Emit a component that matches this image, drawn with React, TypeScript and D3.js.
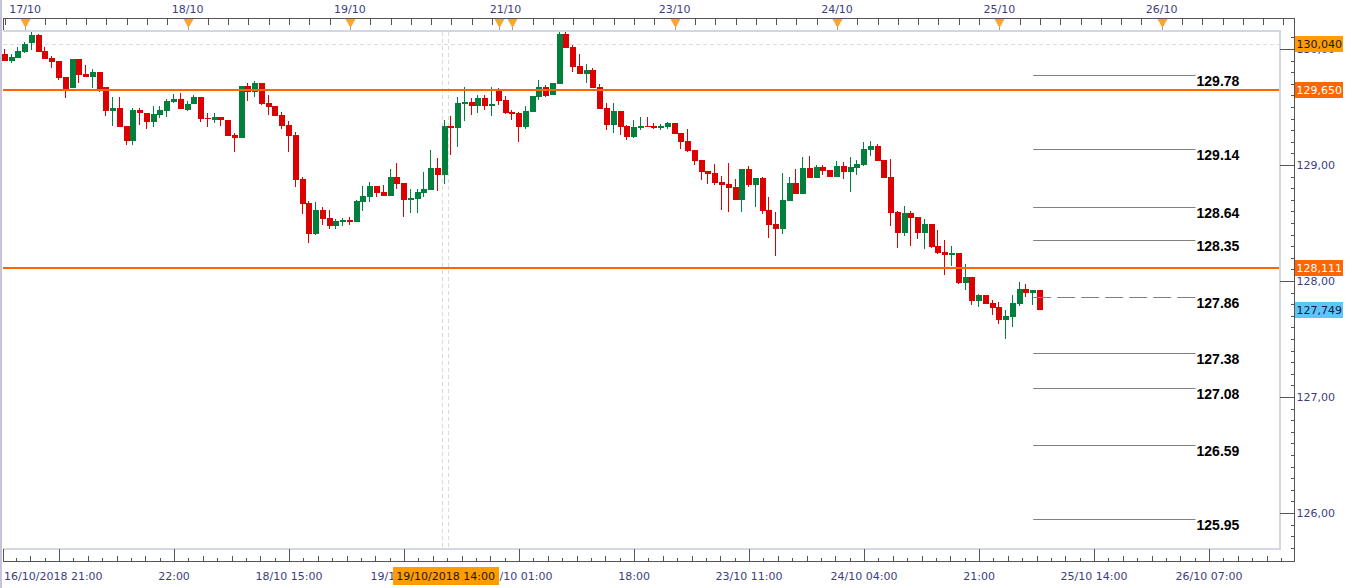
import React from "react";
import * as d3 from "d3";

// ---------- data ----------
const OPEN = [129.957,129.899,129.925,129.977,130.049,130.121,129.983,129.920,129.897,129.759,
129.661,129.914,129.784,129.761,129.802,129.670,129.468,129.491,129.336,129.209,
129.474,129.446,129.373,129.431,129.468,129.546,129.569,129.474,129.523,129.589,
129.408,129.388,129.414,129.388,129.261,129.235,129.681,129.632,129.709,129.534,
129.509,129.431,129.345,129.259,128.879,128.675,128.405,128.612,128.543,128.474,
128.511,128.528,128.509,128.681,128.724,128.819,128.767,128.733,128.897,128.845,
128.701,128.710,128.761,128.787,128.974,128.916,129.339,129.322,129.526,129.543,
129.509,129.578,129.509,129.655,129.560,129.457,129.448,129.328,129.457,129.586,
129.670,129.603,129.698,130.129,130.017,129.853,129.787,129.819,129.675,129.491,
129.345,129.466,129.336,129.241,129.319,129.336,129.336,129.319,129.328,129.362,
129.276,129.207,129.129,129.043,128.948,128.931,128.853,128.836,128.810,128.698,
128.966,128.828,128.888,128.612,128.491,128.448,128.690,128.845,128.750,128.974,
128.888,128.983,128.957,128.897,128.991,128.940,128.974,129.000,129.129,129.164,
129.043,128.897,128.595,128.414,128.586,128.552,128.414,128.491,128.302,128.250,
128.224,128.241,127.983,128.034,127.828,127.879,127.810,127.776,127.664,127.690,
127.802,127.931,127.897,127.922];

const HIGH = [129.997,129.954,130.015,130.063,130.144,130.132,130.020,129.942,129.897,129.759,
129.914,129.914,129.860,129.825,129.802,129.670,129.589,129.584,129.336,129.494,
129.489,129.446,129.509,129.509,129.571,129.612,129.618,129.549,129.601,129.589,
129.451,129.446,129.414,129.388,129.273,129.681,129.709,129.721,129.709,129.603,
129.509,129.457,129.382,129.285,128.894,128.690,128.681,128.635,128.612,128.534,
128.543,128.552,128.698,128.819,128.853,128.819,128.828,128.966,129.017,128.845,
128.793,128.793,128.940,129.129,129.060,129.388,129.422,129.586,129.672,129.578,
129.603,129.603,129.672,129.661,129.595,129.474,129.457,129.509,129.595,129.730,
129.690,129.707,130.144,130.144,130.034,129.957,129.871,129.834,129.698,129.534,
129.534,129.466,129.345,129.388,129.414,129.414,129.362,129.353,129.371,129.362,
129.276,129.310,129.129,129.043,128.948,129.009,128.905,129.017,128.879,128.966,
128.991,128.888,128.897,128.724,128.595,128.931,128.897,128.966,129.069,129.078,
129.000,129.000,128.957,129.034,129.026,129.069,129.043,129.198,129.207,129.181,
129.043,129.052,128.603,128.647,128.603,128.552,128.534,128.491,128.440,128.353,
128.302,128.241,128.147,128.034,127.888,127.879,127.836,127.819,127.750,127.879,
127.991,127.974,127.922,127.922];

const LOW = [129.897,129.882,129.922,129.963,129.991,129.977,129.914,129.839,129.733,129.580,
129.661,129.710,129.761,129.661,129.632,129.422,129.336,129.330,129.175,129.175,
129.345,129.308,129.330,129.405,129.416,129.534,129.485,129.468,129.523,129.368,
129.325,129.359,129.336,129.253,129.115,129.235,129.552,129.589,129.515,129.431,
129.422,129.308,129.115,128.813,128.578,128.330,128.397,128.485,128.451,128.451,
128.474,128.483,128.509,128.603,128.681,128.724,128.733,128.733,128.796,128.554,
128.589,128.589,128.727,128.787,128.778,128.839,129.086,129.155,129.382,129.434,
129.451,129.474,129.425,129.517,129.440,129.388,129.198,129.310,129.457,129.560,
129.586,129.603,129.698,130.011,129.804,129.787,129.710,129.661,129.483,129.302,
129.276,129.259,129.216,129.233,129.302,129.328,129.310,129.302,129.310,129.267,
129.138,129.112,129.000,128.871,128.836,128.828,128.612,128.595,128.698,128.595,
128.810,128.638,128.578,128.371,128.216,128.405,128.690,128.750,128.750,128.888,
128.888,128.914,128.897,128.897,128.879,128.767,128.914,128.991,129.078,129.034,
128.888,128.474,128.284,128.388,128.302,128.362,128.276,128.284,128.233,128.052,
128.129,127.974,127.922,127.793,127.776,127.802,127.707,127.629,127.500,127.603,
127.784,127.862,127.793,127.749];

const CLOSE = [129.899,129.928,129.985,130.040,130.121,129.977,129.914,129.891,129.753,129.655,
129.914,129.778,129.761,129.802,129.640,129.468,129.491,129.330,129.209,129.474,
129.446,129.373,129.440,129.474,129.554,129.569,129.485,129.523,129.586,129.399,
129.394,129.414,129.385,129.253,129.235,129.681,129.632,129.709,129.526,129.502,
129.422,129.339,129.253,128.871,128.666,128.405,128.612,128.537,128.474,128.517,
128.528,128.511,128.690,128.733,128.819,128.761,128.733,128.897,128.839,128.701,
128.716,128.767,128.793,128.974,128.916,129.336,129.322,129.534,129.543,129.509,
129.578,129.509,129.526,129.552,129.448,129.440,129.328,129.466,129.595,129.672,
129.595,129.707,130.129,130.011,129.847,129.787,129.819,129.661,129.483,129.345,
129.466,129.328,129.241,129.328,129.336,129.328,129.319,129.336,129.362,129.267,
129.198,129.121,129.034,128.940,128.922,128.845,128.828,128.802,128.698,128.966,
128.828,128.888,128.603,128.483,128.448,128.698,128.845,128.750,128.974,128.888,
128.983,128.948,128.897,128.991,128.940,128.983,129.009,129.138,129.164,129.034,
128.888,128.586,128.414,128.586,128.543,128.414,128.491,128.293,128.241,128.224,
128.241,127.983,128.034,127.828,127.879,127.802,127.767,127.664,127.698,127.810,
127.931,127.897,127.922,127.749];

// bottom time axis: candle index of each major tick and its label
const BOTTOM_TICK_IDX = [8, 25, 42, 59, 76, 93, 110, 127, 144, 161, 178];
const BOTTOM_TICK_LABELS = ["", "22:00", "18/10 15:00", "19/10 08:00", "22/10 01:00", "18:00",
  "23/10 11:00", "24/10 04:00", "21:00", "25/10 14:00", "26/10 07:00"];
const START_LABEL = "16/10/2018 21:00";
// top axis: day markers
const DAY_IDX = [3, 27, 51, 73, 75, 99, 123, 147, 171];
const DAY_LABELS = [
  { idx: 3, text: "17/10" }, { idx: 27, text: "18/10" }, { idx: 51, text: "19/10" },
  { idx: 74, text: "21/10" }, { idx: 99, text: "23/10" }, { idx: 123, text: "24/10" },
  { idx: 147, text: "25/10" }, { idx: 171, text: "26/10" },
];
const PRICE_TICKS = [126, 127, 128, 129, 130];
const LEVELS = [129.78, 129.14, 128.64, 128.35, 127.86, 127.38, 127.08, 126.59, 125.95];
const LEVEL_FROM = 152;
const LEVEL_TO = 176;
const ORANGE_LINES = [129.65, 128.111];
const HIGH_LINE = 130.04;
const LAST_PRICE = 127.749;
const CROSSHAIR_IDX = 65;
const CROSSHAIR_LABEL = "19/10/2018 14:00";
const TAGS = [
  { v: 130.04, text: "130,040", fill: "#ff9c00", color: "#1a1a1a" },
  { v: 129.65, text: "129,650", fill: "#ff6600", color: "#ffffff" },
  { v: 128.111, text: "128,111", fill: "#ff6600", color: "#ffffff" },
  { v: 127.749, text: "127,749", fill: "#5cc6f6", color: "#1a1a3a" },
];

// ---------- layout ----------
const W = 1352, H = 588;
const PL = 3, PR = 1280, PT = 31, PB = 549;
const AXR = 1294.5;
const AXT = 18.5;
const AXB = 561.5;
const FONT = "'DejaVu Sans', Verdana, sans-serif";
const LABEL_COLOR = "#3d3d7e";
const GREEN = "#00803c";
const RED = "#dd0000";

export default function App() {
  const x = d3.scaleLinear().domain([0, 178]).range([4.9, 4.9 + 178 * 6.765]);
  const y = d3.scaleLinear().domain([126, 130]).range([513, 49]);
  const pitch = x(1) - x(0);

  const candles = OPEN.map((o, i) => {
    const c = CLOSE[i];
    const cx = Math.round(x(i));
    const up = c > o;
    const top = y(Math.max(o, c));
    const bot = y(Math.min(o, c));
    const color = up ? GREEN : RED;
    return (
      <g key={i}>
        <rect x={cx - 1} y={Math.round(y(HIGH[i]))} width={1}
          height={Math.max(1, Math.round(y(LOW[i])) - Math.round(y(HIGH[i])))} fill={color} />
        <rect x={cx - 3} y={Math.round(top)} width={6}
          height={Math.max(1, Math.round(bot) - Math.round(top))} fill={color} />
      </g>
    );
  });

  // top axis minor ticks every 3 candles
  const topTicks: number[] = [];
  for (let i = 0; x(i) < AXR - 2; i += 3) topTicks.push(i);

  // bottom minor ticks: 8 subdivisions per major interval
  const sub = 17 / 8;
  const bottomMinor: { i: number; long: boolean }[] = [];
  for (let k = -3; ; k++) {
    const idx = 8 + k * sub;
    const px = x(idx);
    if (px > AXR - 2) break;
    if (px < PL + 1) continue;
    if (((k % 8) + 8) % 8 === 0) continue;
    bottomMinor.push({ i: idx, long: k % 2 === 0 });
  }

  // right axis minor ticks every 0.1
  const priceMinor: number[] = [];
  for (let v = 1255; v <= 1302; v++) {
    const val = v / 10;
    const py = y(val);
    if (py > PT && py < PB) priceMinor.push(val);
  }

  return (
    <svg width={W} height={H} style={{ position: "absolute", left: 0, top: 0, background: "#fff" }}
      fontFamily={FONT}>
      <rect x={0} y={0} width={W} height={H} fill="#ffffff" />
      {/* left edge */}
      <rect x={0} y={0} width={2} height={H} fill="#c4c4dc" />

      {/* plot frame */}
      <g shapeRendering="crispEdges">
        <rect x={PL} y={PT - 1} width={PR - PL} height={2} fill="#d3d7e2" />
        <rect x={PL} y={PB - 1} width={PR - PL} height={2} fill="#d3d7e2" />
        <rect x={PR - 1} y={PT - 1} width={2} height={PB - PT + 2} fill="#d3d7e2" />
      </g>

      {/* high dashed line */}
      <line x1={PL} x2={PR - 1} y1={Math.round(y(HIGH_LINE)) + 0.5} y2={Math.round(y(HIGH_LINE)) + 0.5}
        stroke="#dcdcdc" strokeDasharray="4,3" />

      {/* crosshair */}
      {[-0.4, 0.43].map((d, k) => (
        <line key={k} x1={Math.round(x(CROSSHAIR_IDX + d)) + 0.5} x2={Math.round(x(CROSSHAIR_IDX + d)) + 0.5}
          y1={PT + 1} y2={PB - 1} stroke="#dadada" strokeDasharray="4,3" />
      ))}

      {/* candles */}
      <g shapeRendering="crispEdges">{candles}</g>

      {/* orange lines */}
      {ORANGE_LINES.map((v) => (
        <rect key={v} x={PL} y={Math.round(y(v)) - 1} width={PR - PL - 1} height={2} fill="#ff6600" />
      ))}

      {/* level lines */}
      {LEVELS.map((v) => {
        const yy = Math.round(y(v)) + 0.5;
        const isLast = v === 127.86;
        return (
          <g key={v}>
            <line x1={isLast ? x(LEVEL_FROM) : x(LEVEL_FROM)} x2={x(LEVEL_TO)} y1={yy} y2={yy}
              stroke="#808080" strokeWidth={1} strokeDasharray={isLast ? "18,6" : undefined} />
            <text x={x(LEVEL_TO) + 1} y={yy + 10.5} fontFamily="'Liberation Sans', Arial, sans-serif"
              fontWeight="bold" fontSize={14} fill="#000">{v.toFixed(2)}</text>
          </g>
        );
      })}

      {/* top axis */}
      <g shapeRendering="crispEdges">
        <line x1={PL} x2={AXR} y1={AXT} y2={AXT} stroke="#555" />
        <line x1={PL + 0.5} x2={PL + 0.5} y1={AXT} y2={PT - 1} stroke="#555" />
        {topTicks.map((i) => (
          <line key={i} x1={Math.round(x(i)) + 0.5} x2={Math.round(x(i)) + 0.5} y1={AXT} y2={AXT + 6.5} stroke="#555" />
        ))}
        {DAY_IDX.map((i) => (
          <line key={"d" + i} x1={Math.round(x(i)) + 0.5} x2={Math.round(x(i)) + 0.5} y1={AXT} y2={PT - 1} stroke="#9a9a9a" />
        ))}
      </g>
      {DAY_IDX.map((i) => {
        const cx = Math.round(x(i)) + 0.5;
        return (
          <polygon key={"t" + i} points={`${cx - 5},${AXT + 0.5} ${cx + 5},${AXT + 0.5} ${cx},${AXT + 9.5}`}
            fill="#f9a62b" />
        );
      })}
      {DAY_LABELS.map((d) => (
        <text key={d.text} x={x(d.idx)} y={13} textAnchor="middle" fontSize={11} fill={LABEL_COLOR}>{d.text}</text>
      ))}

      {/* right axis */}
      <g shapeRendering="crispEdges">
        <line x1={AXR} x2={AXR} y1={AXT} y2={AXB} stroke="#555" />
        {priceMinor.map((v) => (
          <line key={v} x1={AXR - 4} x2={AXR} y1={Math.round(y(v)) + 0.5} y2={Math.round(y(v)) + 0.5} stroke="#555" />
        ))}
        {PRICE_TICKS.map((v) => (
          <line key={"M" + v} x1={PR} x2={AXR} y1={Math.round(y(v)) + 0.5} y2={Math.round(y(v)) + 0.5} stroke="#555" />
        ))}
      </g>
      {PRICE_TICKS.map((v) => (
        <text key={"l" + v} x={AXR + 2} y={y(v) + 4} fontSize={11} fill={LABEL_COLOR}>
          {d3.format(".2f")(v).replace(".", ",")}
        </text>
      ))}
      {TAGS.map((t) => (
        <g key={t.text}>
          <rect x={AXR + 0.5} y={Math.round(y(t.v)) - 8} width={48} height={16} fill={t.fill} />
          <text x={AXR + 2} y={Math.round(y(t.v)) + 4} fontSize={11} fill={t.color}>{t.text}</text>
        </g>
      ))}

      {/* bottom axis */}
      <g shapeRendering="crispEdges">
        <line x1={PL} x2={AXR} y1={AXB} y2={AXB} stroke="#555" />
        <line x1={PL + 0.5} x2={PL + 0.5} y1={PB} y2={AXB} stroke="#555" />
        {bottomMinor.map((t, k) => (
          <line key={k} x1={Math.round(x(t.i)) + 0.5} x2={Math.round(x(t.i)) + 0.5}
            y1={AXB - (t.long ? 6 : 4)} y2={AXB} stroke="#555" />
        ))}
        {BOTTOM_TICK_IDX.map((i) => (
          <line key={"b" + i} x1={Math.round(x(i)) + 0.5} x2={Math.round(x(i)) + 0.5} y1={PB} y2={AXB} stroke="#555" />
        ))}
      </g>
      <text x={4} y={580} fontSize={11} fill={LABEL_COLOR}>{START_LABEL}</text>
      {BOTTOM_TICK_IDX.map((i, k) => (
        BOTTOM_TICK_LABELS[k] ? (
          <text key={"bl" + i} x={x(i)} y={580} textAnchor="middle" fontSize={11} fill={LABEL_COLOR}>
            {BOTTOM_TICK_LABELS[k]}
          </text>
        ) : null
      ))}
      {/* crosshair time tag */}
      <rect x={Math.round(x(CROSSHAIR_IDX)) - 52} y={567} width={106} height={18} fill="#ff9c00" />
      <text x={x(CROSSHAIR_IDX) + 1} y={580} textAnchor="middle" fontSize={11} fill="#1a1a1a">{CROSSHAIR_LABEL}</text>
    </svg>
  );
}
